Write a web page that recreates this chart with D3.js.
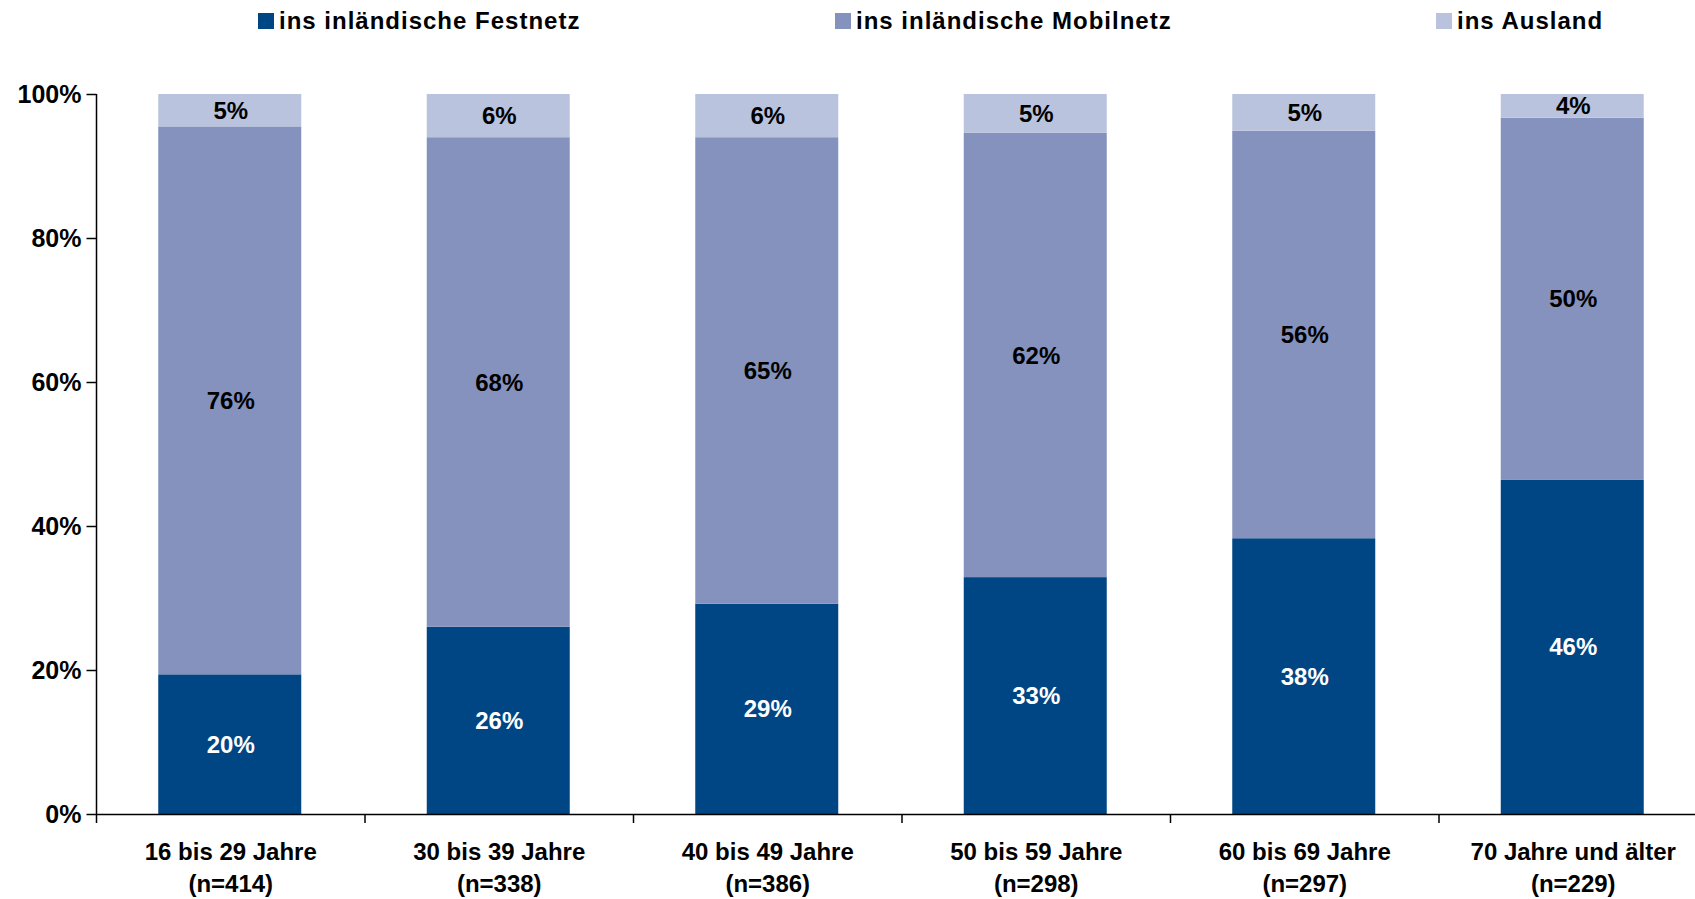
<!DOCTYPE html>
<html>
<head>
<meta charset="utf-8">
<script src="https://cdnjs.cloudflare.com/ajax/libs/d3/7.8.5/d3.min.js"></script>
<style>
  body { margin: 0; background: #fff; overflow: hidden; }
  text { font-family: "Liberation Sans", Arial, sans-serif; font-weight: bold; }
</style>
</head>
<body>
<script>
// data
let groups = ['16 bis 29 Jahre', '30 bis 39 Jahre', '40 bis 49 Jahre', '50 bis 59 Jahre', '60 bis 69 Jahre', '70 Jahre und älter'];
let groupN = ['(n=414)', '(n=338)', '(n=386)', '(n=298)', '(n=297)', '(n=229)'];
let seriesNames = ['ins inländische Festnetz', 'ins inländische Mobilnetz', 'ins Ausland'];
let festnetz = [19.4, 26.0, 29.2, 32.9, 38.3, 46.4];
let mobilnetz = [76.1, 68.0, 64.8, 61.7, 56.6, 50.3];
let ausland = [4.5, 6.0, 6.0, 5.4, 5.1, 3.3];
let festnetzLabel = [20, 26, 29, 33, 38, 46];
let mobilnetzLabel = [76, 68, 65, 62, 56, 50];
let auslandLabel = [5, 6, 6, 5, 5, 4];
let yTicks = [0, 20, 40, 60, 80, 100];

let colors = ['#004584', '#8592be', '#b9c3dd'];
let textColors = ['#fff', '#000', '#000'];

let canvas = d3.select('body')
    .append('svg')
    .attr('width', 1695)
    .attr('height', 899);

let x = d3.scaleBand()
    .domain(groups)
    .range([96.5, 96.5 + 6 * 268.5])
    .paddingInner(0)
    .paddingOuter(0);

let y = d3.scaleLinear()
    .domain([0, 100])
    .range([814, 94]);

let barW = 143;

// stack the three series
let rows = groups.map((g, i) => ({ group: g, s0: festnetz[i], s1: mobilnetz[i], s2: ausland[i],
    l0: festnetzLabel[i], l1: mobilnetzLabel[i], l2: auslandLabel[i] }));
let stack = d3.stack().keys(['s0', 's1', 's2'])(rows);

stack.forEach((layer, k) => {
    let g = canvas.append('g');
    g.selectAll('rect')
        .data(layer)
        .enter()
        .append('rect')
        .attr('x', d => x(d.data.group) + (x.bandwidth() - barW) / 2 - 1)
        .attr('width', barW)
        .attr('y', d => y(d[1]))
        .attr('height', d => y(d[0]) - y(d[1]))
        .attr('fill', colors[k]);

    g.selectAll('text')
        .data(layer)
        .enter()
        .append('text')
        .attr('x', d => x(d.data.group) + x.bandwidth() / 2)
        .attr('y', d => (y(d[0]) + y(d[1])) / 2 + 8.5)
        .attr('text-anchor', 'middle')
        .attr('font-size', '24px')
        .attr('fill', textColors[k])
        .text(d => d.data['l' + k] + '%');
});

// y axis
let yAxis = canvas.append('g')
    .attr('transform', 'translate(96.5,0)')
    .call(d3.axisLeft(y).tickValues(yTicks).tickSize(10).tickPadding(5).tickFormat(d => d + '%'));
yAxis.select('.domain').attr('d', 'M0,94V823').attr('stroke', '#000').attr('stroke-width', 1.5);
yAxis.selectAll('.tick line').attr('stroke', '#000').attr('stroke-width', 1.5);
yAxis.selectAll('.tick text')
    .attr('font-size', '25px')
    .attr('font-family', '"Liberation Sans", Arial, sans-serif')
    .attr('font-weight', 'bold')
    .attr('fill', '#000')
    .attr('dy', '0.35em');

// x axis
let xAxis = canvas.append('g')
    .attr('transform', 'translate(0,814)')
    .call(d3.axisBottom(x).tickSize(0).tickFormat(''));
xAxis.select('.domain').attr('stroke', '#000').attr('stroke-width', 1.5);
xAxis.selectAll('.tick').remove();

// ticks between categories
canvas.append('g').selectAll('line')
    .data(groups.slice(1))
    .enter()
    .append('line')
    .attr('x1', d => x(d))
    .attr('x2', d => x(d))
    .attr('y1', 814)
    .attr('y2', 823)
    .attr('stroke', '#000')
    .attr('stroke-width', 1.5);

// category labels, two lines
let catLabels = canvas.append('g').selectAll('text')
    .data(groups)
    .enter()
    .append('text')
    .attr('text-anchor', 'middle')
    .attr('font-size', '24px')
    .attr('fill', '#000');
catLabels.append('tspan')
    .attr('x', d => x(d) + x.bandwidth() / 2)
    .attr('y', 860)
    .text(d => d);
catLabels.append('tspan')
    .attr('x', d => x(d) + x.bandwidth() / 2)
    .attr('y', 892)
    .text((d, i) => groupN[i]);

// legend
let legendX = [258, 835, 1436];
let legend = canvas.append('g').selectAll('g')
    .data(seriesNames)
    .enter()
    .append('g')
    .attr('transform', (d, i) => 'translate(' + legendX[i] + ',0)');
legend.append('rect')
    .attr('x', 0)
    .attr('y', 13)
    .attr('width', 16)
    .attr('height', 16)
    .attr('fill', (d, i) => colors[i]);
legend.append('text')
    .attr('x', 21)
    .attr('y', 29)
    .attr('font-size', '24px')
    .attr('letter-spacing', '1px')
    .attr('fill', '#000')
    .text(d => d);
</script>
</body>
</html>
